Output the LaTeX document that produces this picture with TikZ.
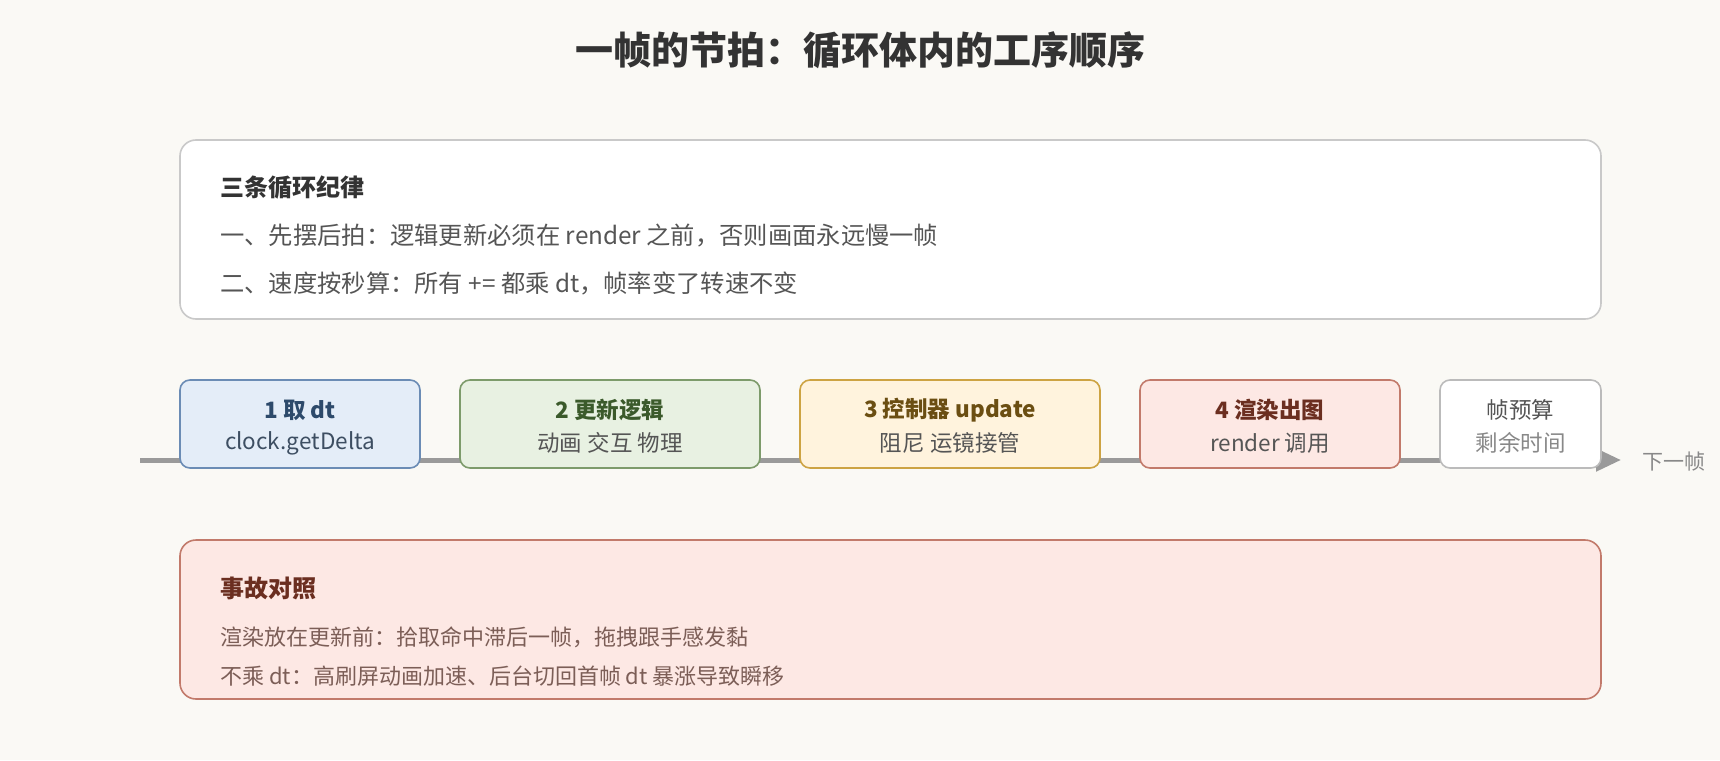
\documentclass[tikz,border=0pt]{standalone}
\usepackage{fontspec}
\setmainfont{Noto Sans CJK SC}
\usetikzlibrary{arrows.meta}
\definecolor{bg}{HTML}{FAF9F5}
\definecolor{titlec}{HTML}{333333}
\definecolor{bodyc}{HTML}{555555}
\definecolor{bluef}{HTML}{E4EDF8}\definecolor{blued}{HTML}{6B8CB5}\definecolor{bluet}{HTML}{2D4A6B}
\definecolor{greenf}{HTML}{E8F1E2}\definecolor{greend}{HTML}{7D9B6B}\definecolor{greent}{HTML}{3B5A2B}
\definecolor{yelf}{HTML}{FFF3DD}\definecolor{yeld}{HTML}{CDA343}\definecolor{yelt}{HTML}{6B4E12}
\definecolor{redf}{HTML}{FDE8E4}\definecolor{redd}{HTML}{C27A6B}\definecolor{redt}{HTML}{6B2E20}
\definecolor{redb}{HTML}{7C5E57}
\definecolor{grayd}{HTML}{BBBBBB}\definecolor{linec}{HTML}{9A9A9A}\definecolor{lightt}{HTML}{888888}
\begin{document}
\begin{tikzpicture}[x=1pt,y=-1pt,
  stepbox/.style={draw, line width=1.6pt, rounded corners=10pt, inner sep=0pt, minimum height=88pt},
  panel/.style={draw, line width=1.6pt, rounded corners=16pt},
  ttl/.style={font=\fontsize{22.5}{26}\selectfont\bfseries, inner sep=0pt},
  sub/.style={font=\fontsize{22.5}{26}\selectfont, inner sep=0pt},
  txt/.style={anchor=west, inner sep=0pt, font=\fontsize{24.3}{28}\selectfont, text=bodyc},
  btxt/.style={anchor=west, inner sep=0pt, font=\fontsize{22}{26}\selectfont, text=redb},
  head/.style={anchor=west, inner sep=0pt, font=\fontsize{24}{28}\selectfont\bfseries},
]
\fill[bg] (0,0) rectangle (1720,760);
\useasboundingbox (0,0) rectangle (1720,760);

\node[font=\fontsize{38}{44}\selectfont\bfseries, text=titlec, inner sep=0pt] (title) at (860,50) {一帧的节拍：循环体内的工序顺序};

% top panel
\node[panel, draw=grayd!80, fill=white, minimum width=1421pt, minimum height=179pt] (rules) at (890.5,229.5) {};
\node[head, text=titlec] (rh) at (220,188) {三条循环纪律};
\node[txt] (r1) at (220,236) {一、先摆后拍：逻辑更新必须在 render 之前，否则画面永远慢一帧};
\node[txt] (r2) at (220,283) {二、速度按秒算：所有 += 都乘 dt，帧率变了转速不变};

% timeline
\coordinate (tls) at (140,460);
\coordinate (tle) at (1621,460);
\draw[linec, line width=5pt, -{Triangle[length=25pt,width=22pt]}] (tls) -- (tle);
\node[font=\fontsize{21}{26}\selectfont, text=lightt, inner sep=0pt] (next) at (1674,462) {下一帧};

% steps
\node[stepbox, draw=blued, fill=bluef, minimum width=240pt] (b1) at (300,424) {};
\node[ttl, text=bluet] (b1t) at ([yshift=14pt]b1.center) {1 取 dt};
\node[sub, text=bluet!60!bodyc] (b1s) at ([yshift=-19pt]b1.center) {clock.getDelta};

\node[stepbox, draw=greend, fill=greenf, minimum width=300pt] (b2) at (610,424) {};
\node[ttl, text=greent] (b2t) at ([yshift=14pt]b2.center) {2 更新逻辑};
\node[sub, text=bodyc] (b2s) at ([yshift=-19pt]b2.center) {动画 交互 物理};

\node[stepbox, draw=yeld, fill=yelf, minimum width=300pt] (b3) at (950,424) {};
\node[ttl, text=yelt] (b3t) at ([yshift=14pt]b3.center) {3 控制器 update};
\node[sub, text=bodyc] (b3s) at ([yshift=-19pt]b3.center) {阻尼 运镜接管};

\node[stepbox, draw=redd, fill=redf, minimum width=260pt] (b4) at (1270,424) {};
\node[ttl, text=redt] (b4t) at ([yshift=14pt]b4.center) {4 渲染出图};
\node[sub, text=bodyc] (b4s) at ([yshift=-19pt]b4.center) {render 调用};

\node[stepbox, draw=grayd, fill=white, minimum width=161pt] (b5) at (1520.5,424) {};
\node[sub, text=bodyc] (b5t) at ([yshift=14pt]b5.center) {帧预算};
\node[sub, text=lightt] (b5s) at ([yshift=-19pt]b5.center) {剩余时间};

% bottom panel
\node[panel, draw=redd, fill=redf, minimum width=1421pt, minimum height=159pt] (acc) at (890.5,619.5) {};
\node[head, text=redt] (ah) at (220,588) {事故对照};
\node[btxt] (a1) at (220,637) {渲染放在更新前：拾取命中滞后一帧，拖拽跟手感发黏};
\node[btxt] (a2) at (220,676) {不乘 dt：高刷屏动画加速、后台切回首帧 dt 暴涨导致瞬移};
\end{tikzpicture}
\end{document}
